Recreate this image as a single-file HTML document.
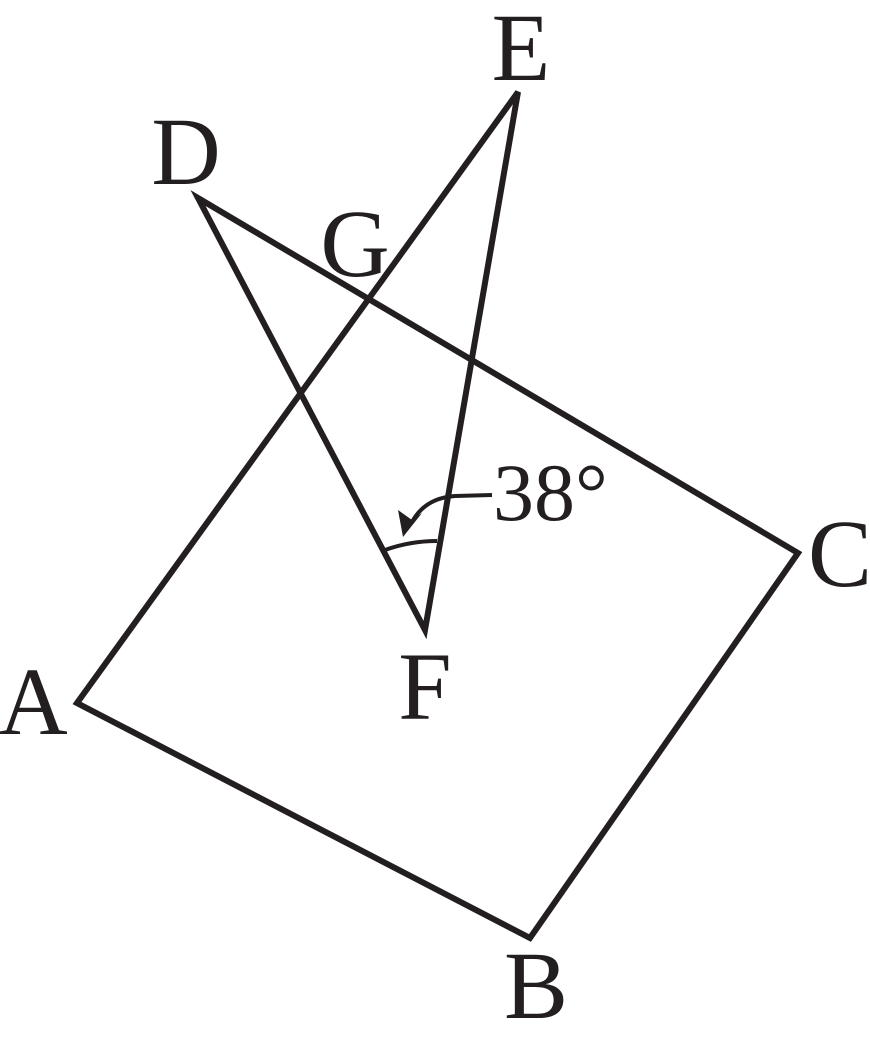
<!DOCTYPE html>
<html><head><meta charset="utf-8"><style>
html,body{margin:0;padding:0;background:#fff;}
svg{display:block;}
text{font-family:"Liberation Serif",serif;fill:#231f20;}
</style></head><body>
<svg width="870" height="1049" viewBox="0 0 870 1049" xmlns="http://www.w3.org/2000/svg">
<g fill="none" stroke="#231f20" stroke-width="6" stroke-linejoin="miter" stroke-linecap="butt">
<path d="M77,703 L518,92 L425,630 L198,198 L798,553 L530,938 Z"/>
</g>
<path d="M385,550 Q410,541 437,541" fill="none" stroke="#231f20" stroke-width="4"/>
<path d="M492,495 L455,496 Q425,498 412,522" fill="none" stroke="#231f20" stroke-width="4"/>
<path d="M403,537 L398,510 L412,520 L422,513 Z" fill="#231f20"/>
<g font-size="96">
<text x="521" y="80" text-anchor="middle">E</text>
<text x="186" y="184" text-anchor="middle">D</text>
<text x="355" y="276" text-anchor="middle">G</text>
<text x="840" y="586" text-anchor="middle">C</text>
<text x="33" y="734" text-anchor="middle">A</text>
<text x="425" y="719" text-anchor="middle">F</text>
<text x="536" y="1018" text-anchor="middle">B</text>
</g>
<text x="493" y="520" font-size="82">38°</text>
</svg>
</body></html>
